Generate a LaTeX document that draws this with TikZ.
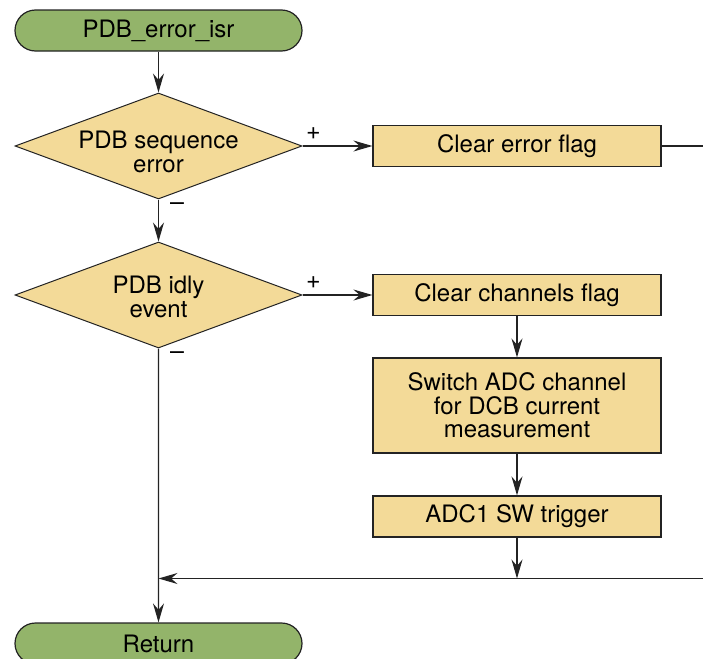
\documentclass[tikz,border=0pt]{standalone}
\usepackage{fontspec}
\setmainfont{TeX Gyre Heros}
\usepackage{xcolor}
\usepackage{tikz}
\usetikzlibrary{shapes.geometric}
\usetikzlibrary{shapes.misc}
\usetikzlibrary{arrows.meta}
\definecolor{termgreen}{RGB}{147,180,106}
\definecolor{boxsand}{RGB}{243,218,152}
\definecolor{lineblack}{RGB}{35,35,35}

\begin{document}
\begin{tikzpicture}[x=0.5pt,y=-0.5pt,
    every node/.style={font=\fontsize{12}{11.7}\selectfont},
    terminal/.style={rounded rectangle, draw=lineblack, fill=termgreen,
      line width=0.6pt, minimum width=143.5pt, minimum height=20.5pt, inner sep=0pt},
    decision/.style={diamond, draw=lineblack, fill=boxsand,
      line width=0.5pt, minimum width=143.5pt, minimum height=53pt, inner sep=0pt},
    process/.style={rectangle, draw=lineblack, fill=boxsand, align=center,
      line width=0.6pt, minimum width=144pt, minimum height=20.5pt, inner sep=0pt},
    flow/.style={draw=lineblack, line width=0.55pt,
      -{Stealth[length=9.5pt,width=5.5pt,inset=3.2pt]}},
    plain/.style={draw=lineblack, line width=0.55pt},
    sign/.style={font=\fontsize{12.5}{12.5}\selectfont, inner sep=0pt}]
    \useasboundingbox (0,0) rectangle (703,659);
    \clip (0,0) rectangle (703,659);
    \node[terminal] (start) at (158.5,30.5) {PDB\_error\_isr};
    \node[decision] (seq) at (158.5,146) {};
    \node[align=center, inner sep=0pt] (seqtext) at (158.5,152) {PDB sequence\\error};
    \node[process] (clrerr) at (517,146) {Clear error flag};
    \node[decision] (idly) at (158.5,295) {};
    \node[align=center, inner sep=0pt] (idlytext) at (158.5,297) {PDB idly\\event};
    \node[process] (clrch) at (517,295) {Clear channels flag};
    \node[process, minimum height=47.5pt] (switch) at (517,405.5) {Switch ADC channel\\for DCB current\\measurement};
    \node[process] (trig) at (517,516.5) {ADC1 SW trigger};
    \node[terminal] (ret) at (158.5,643.5) {Return};
    \node[sign] (plusseq) at (313.5,134) {+};
    \node[sign] (minusseq) at (177,207) {\textendash};
    \node[sign] (plusidly) at (313.5,283) {+};
    \node[sign] (minusidly) at (177,356) {\textendash};
    \coordinate (rightup) at (712,146);
    \coordinate (rightdown) at (712,578.5);
    \coordinate (join) at (158.5,578.5);
    \draw[flow] (start) -- (seq);
    \draw[flow] (seq) -- (clrerr);
    \draw[plain] (clrerr) -- (rightup);
    \draw[flow] (seq) -- (idly);
    \draw[flow] (idly) -- (clrch);
    \draw[flow] (clrch) -- (switch);
    \draw[flow] (switch) -- (trig);
    \draw[flow] (trig) -- (trig |- join);
    \draw[flow] (rightdown) -- (join);
    \draw[flow] (idly) -- (ret);
  \end{tikzpicture}
\end{document}
